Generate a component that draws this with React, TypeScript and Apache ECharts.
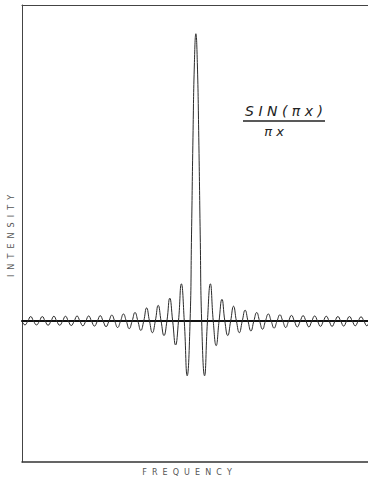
import React, { useEffect, useRef } from "react";
import * as echarts from "echarts";

// Side-lobe extrema (frequency units, intensity relative to peak = 1)
const leftPeakFreq = [-29.5, -28.5, -27.5, -26.5, -25.5, -24.5, -23.5, -22.5, -21.5, -20.5, -19.5, -18.5, -17.5, -16.5, -15.5, -14.5, -13.5, -12.5, -11.5, -10.5, -9.5, -8.5, -7.5, -6.5, -5.5, -4.5, -3.5, -2.5, -1.5];
const leftPeakInt = [-0.013, 0.016, -0.013, 0.016, -0.014, 0.017, -0.014, 0.017, -0.015, 0.018, -0.016, 0.018, -0.017, 0.019, -0.019, 0.021, -0.022, 0.025, -0.026, 0.03, -0.032, 0.046, -0.04, 0.055, -0.05, 0.08, -0.083, 0.13, -0.19];
const rightPeakFreq = [1.5, 2.5, 3.5, 4.5, 5.5, 6.5, 7.5, 8.5, 9.5, 10.5, 11.5, 12.5, 13.5, 14.5, 15.5, 16.5, 17.5, 18.5, 19.5, 20.5, 21.5, 22.5, 23.5, 24.5, 25.5, 26.5, 27.5, 28.5, 29.5];
const rightPeakInt = [-0.19, 0.13, -0.085, 0.076, -0.05, 0.052, -0.04, 0.038, -0.034, 0.03, -0.028, 0.025, -0.024, 0.022, -0.022, 0.02, -0.02, 0.019, -0.02, 0.018, -0.018, 0.017, -0.018, 0.016, -0.017, 0.016, -0.016, 0.015, -0.016];
// Central lobe
const mainFreq = [-1, -0.75, -0.5, -0.25, 0, 0.25, 0.5, 0.75, 1];
const mainInt = [0, 0.3, 0.64, 0.9, 1, 0.9, 0.64, 0.3, 0];
// Zero crossings of the side lobes
const zeroFreq = [-30, -29, -28, -27, -26, -25, -24, -23, -22, -21, -20, -19, -18, -17, -16, -15, -14, -13, -12, -11, -10, -9, -8, -7, -6, -5, -4, -3, -2, 2, 3, 4, 5, 6, 7, 8, 9, 10, 11, 12, 13, 14, 15, 16, 17, 18, 19, 20, 21, 22, 23, 24, 25, 26, 27, 28, 29, 30];

const xLabel = "F  R  E  Q  U  E  N  C  Y";
const yLabel = "I  N  T  E  N  S  I  T  Y";
const formulaTop = "S I N ( π x )";
const formulaBottom = "π x";

const X_MIN = -30;
const X_MAX = 29.7;
const Y_MIN = -0.49;
const Y_MAX = 1.1;

export default function App() {
  const ref = useRef<HTMLDivElement>(null);
  useEffect(() => {
    if (!ref.current) return;
    const chart = echarts.init(ref.current, null, { renderer: "svg" });
    const pts: [number, number][] = [];
    leftPeakFreq.forEach((f, i) => pts.push([f, leftPeakInt[i]]));
    rightPeakFreq.forEach((f, i) => pts.push([f, rightPeakInt[i]]));
    mainFreq.forEach((f, i) => pts.push([f, mainInt[i]]));
    zeroFreq.forEach((f) => pts.push([f, 0]));
    pts.sort((a, b) => a[0] - b[0]);
    const dedup = pts.filter((p, i) => i === 0 || p[0] !== pts[i - 1][0]);

    const hidden = {
      axisTick: { show: false },
      axisLabel: { show: false },
      splitLine: { show: false },
    };

    chart.setOption({
      animation: false,
      backgroundColor: "#ffffff",
      grid: { left: 22, right: 0, top: 5, bottom: 20 },
      xAxis: [
        {
          type: "value",
          min: X_MIN,
          max: X_MAX,
          position: "bottom",
          axisLine: { onZero: false, lineStyle: { color: "#333", width: 1.5 } },
          ...hidden,
        },
        {
          type: "value",
          min: X_MIN,
          max: X_MAX,
          position: "top",
          axisLine: { onZero: false, lineStyle: { color: "#444", width: 1 } },
          ...hidden,
        },
        {
          type: "value",
          min: X_MIN,
          max: X_MAX,
          position: "bottom",
          axisLine: { onZero: true, lineStyle: { color: "#111", width: 2 } },
          ...hidden,
        },
      ],
      yAxis: {
        type: "value",
        min: Y_MIN,
        max: Y_MAX,
        axisLine: { show: true, onZero: false, lineStyle: { color: "#444", width: 1 } },
        ...hidden,
      },
      series: [
        {
          type: "line",
          xAxisIndex: 0,
          data: dedup,
          showSymbol: false,
          smooth: 0.5,
          lineStyle: { color: "#2a2a2a", width: 1 },
          z: 3,
        },
      ],
      graphic: [
        {
          type: "text",
          x: 187,
          y: 472,
          style: {
            text: xLabel,
            fill: "#555",
            font: "8px 'DejaVu Sans'",
            textAlign: "center",
            textVerticalAlign: "middle",
          },
        },
        {
          type: "text",
          x: 11,
          y: 236,
          rotation: Math.PI / 2,
          style: {
            text: yLabel,
            fill: "#555",
            font: "8px 'DejaVu Sans'",
            textAlign: "center",
            textVerticalAlign: "middle",
          },
        },
        {
          type: "text",
          x: 284,
          y: 111,
          style: {
            text: formulaTop,
            fill: "#222",
            font: "italic 14px 'DejaVu Sans'",
            textAlign: "center",
            textVerticalAlign: "middle",
          },
        },
        {
          type: "line",
          shape: { x1: 243, y1: 121, x2: 325, y2: 121 },
          style: { stroke: "#222", lineWidth: 1.5 },
        },
        {
          type: "text",
          x: 274,
          y: 131,
          style: {
            text: formulaBottom,
            fill: "#222",
            font: "italic 13px 'DejaVu Sans'",
            textAlign: "center",
            textVerticalAlign: "middle",
          },
        },
      ],
    });
    return () => chart.dispose();
  }, []);
  return (
    <div
      ref={ref}
      style={{ position: "absolute", left: 0, top: 0, width: 368, height: 482 }}
    />
  );
}
